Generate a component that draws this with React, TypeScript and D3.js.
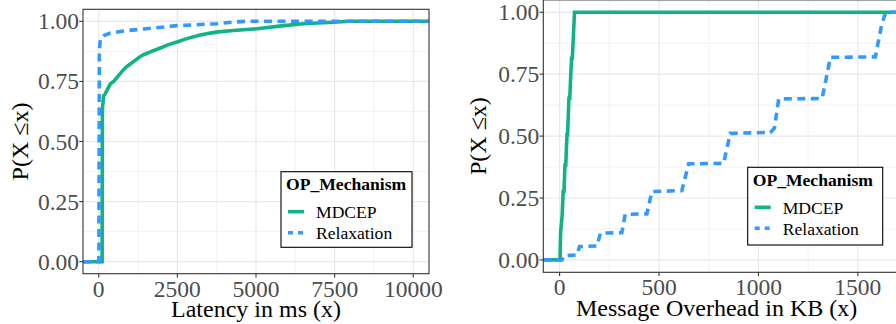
import { useEffect, useRef } from 'react'
import * as d3 from 'd3'

// ECDF vertices (x, P(X <= x))
const latencyMdcepX = [108, 118, 160, 212, 371, 476, 794, 900, 1324, 1429, 1700, 1958, 2200, 2488, 2800, 3228, 3546, 3800, 4286, 4921, 5029, 5873, 6500, 7460, 7990]
const latencyMdcepY = [0, 0.64, 0.69, 0.7, 0.74, 0.75, 0.8, 0.812, 0.854, 0.861, 0.876, 0.889, 0.902, 0.914, 0.928, 0.943, 0.951, 0.956, 0.962, 0.968, 0.969, 0.982, 0.99, 0.996, 1.0]
const latencyRelaxX = [5, 20, 54, 150, 371, 800, 1429, 2488, 3757, 4300, 4710]
const latencyRelaxY = [0, 0.88, 0.93, 0.94, 0.951, 0.96, 0.968, 0.982, 0.99, 0.997, 1.0]

const overheadMdcepX = [2, 5, 13, 18, 22, 27, 31, 37, 40, 47, 51, 60, 64, 75]
const overheadMdcepY = [0, 0.11, 0.18, 0.276, 0.276, 0.383, 0.383, 0.505, 0.505, 0.653, 0.653, 0.814, 0.814, 1.0]
const overheadRelaxX = [12, 20, 87, 100, 188, 205, 313, 330, 439, 464, 615, 649, 825, 858, 1060, 1080, 1102, 1320, 1362, 1588, 1600, 1620, 1640]
const overheadRelaxY = [0, 0.016, 0.02, 0.054, 0.056, 0.108, 0.11, 0.184, 0.186, 0.276, 0.28, 0.388, 0.39, 0.511, 0.515, 0.532, 0.65, 0.652, 0.818, 0.82, 0.87, 0.95, 1.0]

const latencyTicks = [0, 2500, 5000, 7500, 10000]
const overheadTicks = [0, 500, 1000, 1500]
const probTicks = [0, 0.25, 0.5, 0.75, 1.0]

const seriesNames = ['MDCEP', 'Relaxation']
const legendTitle = 'OP_Mechanism'
const yTitle = 'P(X \u2264x)'

const GREEN = '#0fb386'
const BLUE = '#3399ff'
const FONT = '"Liberation Serif", "DejaVu Serif", serif'

const zip = (xs, ys) => xs.map((x, i) => [x, ys[i]])

function drawPanel(svg, cfg) {
  const { x0, x1, y0, y1, xDomain, xTicks, xTitle, id, legend, yTitleX, xTickY, xTitleY } = cfg
  const x = d3.scaleLinear().domain(xDomain).range([x0, x1])
  const y = d3.scaleLinear().domain([-0.05, 1.05]).range([y1, y0])
  const g = svg.append('g')

  g.append('defs').append('clipPath').attr('id', id)
    .append('rect').attr('x', x0).attr('y', y0).attr('width', x1 - x0).attr('height', y1 - y0)

  g.append('rect').attr('x', x0).attr('y', y0).attr('width', x1 - x0).attr('height', y1 - y0).attr('fill', '#fff')

  // grid: minor then major
  const xMinor = xTicks.slice(0, -1).map((t, i) => (t + xTicks[i + 1]) / 2)
  xMinor.push(xTicks[xTicks.length - 1] + (xTicks[1] - xTicks[0]) / 2)
  const yMinor = probTicks.slice(0, -1).map((t, i) => (t + probTicks[i + 1]) / 2)
  const grid = g.append('g').attr('clip-path', `url(#${id})`)
  xMinor.forEach((t) => grid.append('line').attr('x1', x(t)).attr('x2', x(t)).attr('y1', y0).attr('y2', y1)
    .attr('stroke', '#f2f2f2').attr('stroke-width', 1))
  yMinor.forEach((t) => grid.append('line').attr('x1', x0).attr('x2', x1).attr('y1', y(t)).attr('y2', y(t))
    .attr('stroke', '#f2f2f2').attr('stroke-width', 1))
  xTicks.forEach((t) => grid.append('line').attr('x1', x(t)).attr('x2', x(t)).attr('y1', y0).attr('y2', y1)
    .attr('stroke', '#e8e8e8').attr('stroke-width', 1.2))
  probTicks.forEach((t) => grid.append('line').attr('x1', x0).attr('x2', x1).attr('y1', y(t)).attr('y2', y(t))
    .attr('stroke', '#e8e8e8').attr('stroke-width', 1.2))

  // ecdf lines, padded to the panel edges like stat_ecdf
  const line = d3.line().x((d) => x(d[0])).y((d) => y(d[1]))
  const pad = (pts) => [[xDomain[0], 0], ...pts, [xDomain[1], 1]]
  const lines = g.append('g').attr('clip-path', `url(#${id})`)
  lines.append('path').datum(pad(cfg.mdcep)).attr('d', line)
    .attr('fill', 'none').attr('stroke', GREEN).attr('stroke-width', 3.6)
  lines.append('path').datum(pad(cfg.relax)).attr('d', line)
    .attr('fill', 'none').attr('stroke', BLUE).attr('stroke-width', 3.6).attr('stroke-dasharray', '8,5.5')

  g.append('rect').attr('x', x0).attr('y', y0).attr('width', x1 - x0).attr('height', y1 - y0)
    .attr('fill', 'none').attr('stroke', '#333').attr('stroke-width', 1.1)

  // axes
  xTicks.forEach((t) => {
    g.append('line').attr('x1', x(t)).attr('x2', x(t)).attr('y1', y1).attr('y2', y1 + 3.7)
      .attr('stroke', '#333').attr('stroke-width', 1.1)
    g.append('text').attr('x', x(t)).attr('y', xTickY).attr('text-anchor', 'middle')
      .attr('font-family', FONT).attr('font-size', 23.5).attr('fill', '#4d4d4d').text(String(t))
  })
  probTicks.forEach((t) => {
    g.append('line').attr('x1', x0 - 3.7).attr('x2', x0).attr('y1', y(t)).attr('y2', y(t))
      .attr('stroke', '#333').attr('stroke-width', 1.1)
    g.append('text').attr('x', x0 - 4).attr('y', y(t) + 8).attr('text-anchor', 'end')
      .attr('font-family', FONT).attr('font-size', 23.5).attr('fill', '#4d4d4d').text(t.toFixed(2))
  })

  g.append('text').attr('x', (x0 + Math.min(x1, 896)) / 2 + (cfg.xTitleShift || 0)).attr('y', xTitleY)
    .attr('text-anchor', 'middle').attr('font-family', FONT).attr('font-size', 24).attr('fill', '#000').text(xTitle)
  g.append('text').attr('transform', `translate(${yTitleX},${(y0 + y1) / 2}) rotate(-90)`)
    .attr('text-anchor', 'middle').attr('font-family', FONT).attr('font-size', 24).attr('fill', '#000').text(yTitle)

  // legend
  const lg = g.append('g').attr('transform', `translate(${legend.x},${legend.y})`)
  lg.append('rect').attr('x', 0).attr('y', 0).attr('width', legend.w).attr('height', legend.h)
    .attr('fill', '#fff').attr('stroke', '#000').attr('stroke-width', 1.1)
  lg.append('text').attr('x', 5).attr('y', 18.5).attr('font-family', FONT).attr('font-weight', 'bold')
    .attr('font-size', 17.6).attr('fill', '#000').text(legendTitle)
  seriesNames.forEach((name, i) => {
    const ky = 40 + i * 21
    lg.append('line').attr('x1', 7).attr('x2', 23).attr('y1', ky).attr('y2', ky)
      .attr('stroke', i === 0 ? GREEN : BLUE).attr('stroke-width', 3.6)
      .attr('stroke-dasharray', i === 0 ? '' : '5,5')
    lg.append('text').attr('x', 35).attr('y', ky + 6.3).attr('font-family', FONT)
      .attr('font-size', 17.6).attr('fill', '#000').text(name)
  })
}

export default function App() {
  const svgRef = useRef(null)

  useEffect(() => {
    const svg = d3.select(svgRef.current)
    svg.selectAll('*').remove()

    drawPanel(svg, {
      id: 'clipL', x0: 83, x1: 429, y0: 9.3, y1: 273.7,
      xDomain: [-500, 10500], xTicks: latencyTicks, xTitle: 'Latency in ms (x)',
      mdcep: zip(latencyMdcepX, latencyMdcepY), relax: zip(latencyRelaxX, latencyRelaxY),
      yTitleX: 28, xTickY: 296.5, xTitleY: 317, 
      legend: { x: 281, y: 171.7, w: 131, h: 75.6 },
    })
    drawPanel(svg, {
      id: 'clipR', x0: 543.3, x1: 902, y0: -0.1, y1: 272.3,
      xDomain: [-82, 1722], xTicks: overheadTicks, xTitle: 'Message Overhead in KB (x)',
      mdcep: zip(overheadMdcepX, overheadMdcepY), relax: zip(overheadRelaxX, overheadRelaxY),
      yTitleX: 486, xTickY: 294.5, xTitleY: 315.5, xTitleShift: -3,
      legend: { x: 747.7, y: 167.3, w: 135, h: 77.7 },
    })

    return () => svg.selectAll('*').remove()
  }, [])

  return (
    <svg ref={svgRef} width={896} height={324}
      style={{ position: 'absolute', left: 0, top: 0, background: '#fff' }} />
  )
}
